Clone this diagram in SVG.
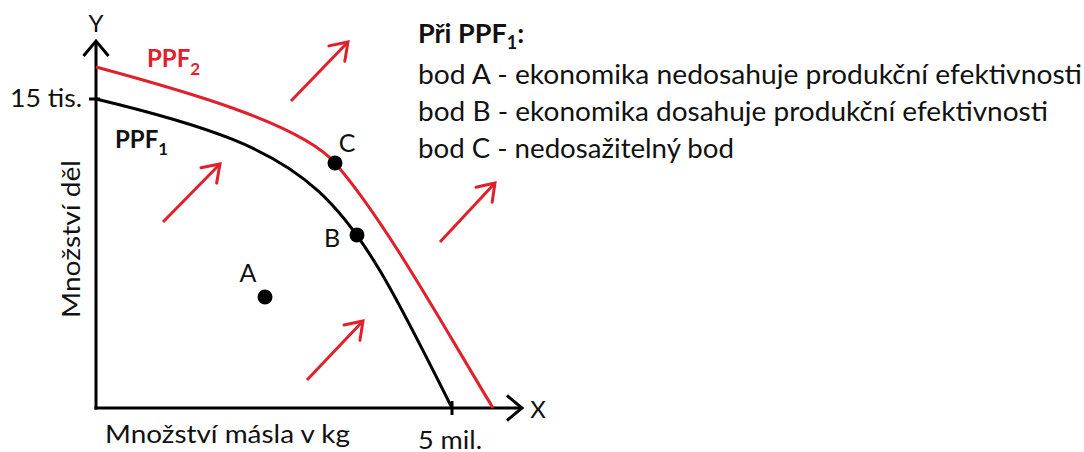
<svg xmlns="http://www.w3.org/2000/svg" width="1084" height="452" viewBox="0 0 1084 452">
<defs>
<style>
.t{font-family:Lato,"Noto Sans","DejaVu Sans",sans-serif;fill:#111}
.b{font-weight:bold}
.ax{stroke:#000;stroke-width:3;fill:none}
.blk{stroke:#000;stroke-width:3;fill:none}
.red{stroke:#e0202a;stroke-width:3;fill:none}
.dot{fill:#000}
</style>
<marker id="ra" markerUnits="userSpaceOnUse" markerWidth="40" markerHeight="40" refX="0" refY="0" orient="auto" overflow="visible">
<path d="M-16,-11 L0,0 L-16,11" fill="none" stroke="#e0202a" stroke-width="3" stroke-linecap="round"/>
</marker>
<marker id="ka" markerUnits="userSpaceOnUse" markerWidth="40" markerHeight="40" refX="0" refY="0" orient="auto" overflow="visible">
<path d="M-15,-12.5 L0,0 L-15,12.5" fill="none" stroke="#000" stroke-width="3"/>
</marker>
</defs>
<rect width="1084" height="452" fill="#fff"/>

<g id="axes">
<line class="ax" x1="96" y1="409.5" x2="96" y2="41" marker-end="url(#ka)"/>
<line class="ax" x1="94.5" y1="408" x2="522" y2="408" marker-end="url(#ka)"/>
<line class="ax" x1="89" y1="99" x2="100" y2="99"/>
<line class="ax" x1="452" y1="401" x2="452" y2="415"/>
<text class="t" x="96" y="32" font-size="24" text-anchor="middle">Y</text>
<text class="t" x="538" y="418" font-size="24" text-anchor="middle">X</text>
<text class="t" x="82" y="107" font-size="25" text-anchor="end" textLength="72" lengthAdjust="spacingAndGlyphs">15 tis.</text>
<text class="t" x="418" y="449" font-size="25" textLength="64" lengthAdjust="spacingAndGlyphs">5 mil.</text>
<text class="t" x="105" y="443" font-size="25" textLength="245" lengthAdjust="spacingAndGlyphs">Množství másla v kg</text>
<text class="t" transform="translate(80,239) rotate(-90)" font-size="25" text-anchor="middle" textLength="158" lengthAdjust="spacingAndGlyphs">Množství děl</text>
</g>

<g id="ppf1">
<path class="blk" d="M96,99 C326,154.2 342,188 452,408"/>
<text class="t b" x="115" y="148" font-size="24">PPF<tspan font-size="17" dy="7">1</tspan></text>
</g>

<g id="ppf2">
<path class="red" d="M96,67 C176,88.6 300,122.75 335,163 C385,220.5 443,325.5 493,408"/>
<text class="t b" x="147" y="67" font-size="24" style="fill:#e0202a">PPF<tspan font-size="17" dy="8">2</tspan></text>
</g>

<g id="pointA">
<circle class="dot" cx="265" cy="297" r="7.5"/>
<text class="t" x="248" y="282" font-size="25" text-anchor="middle">A</text>
</g>
<g id="pointB">
<circle class="dot" cx="357" cy="235" r="7.5"/>
<text class="t" x="332" y="247" font-size="25" text-anchor="middle">B</text>
</g>
<g id="pointC">
<circle class="dot" cx="335" cy="163" r="7.5"/>
<text class="t" x="347" y="152" font-size="25" text-anchor="middle">C</text>
</g>

<g id="connectors">
<line class="red" x1="291" y1="101" x2="348" y2="42" marker-end="url(#ra)"/>
<line class="red" x1="163" y1="222" x2="220" y2="164" marker-end="url(#ra)"/>
<line class="red" x1="307" y1="380" x2="363" y2="321" marker-end="url(#ra)"/>
<line class="red" x1="440" y1="242" x2="495" y2="183" marker-end="url(#ra)"/>
</g>

<g id="legend">
<text class="t b" x="418" y="43" font-size="27">Při PPF<tspan font-size="18" dy="6">1</tspan><tspan dy="-6">:</tspan></text>
<text class="t" x="418" y="84" font-size="27" textLength="664" lengthAdjust="spacingAndGlyphs">bod A - ekonomika nedosahuje produkční efektivnosti</text>
<text class="t" x="418" y="121" font-size="27" textLength="630" lengthAdjust="spacingAndGlyphs">bod B - ekonomika dosahuje produkční efektivnosti</text>
<text class="t" x="418" y="158" font-size="27" textLength="316" lengthAdjust="spacingAndGlyphs">bod C - nedosažitelný bod</text>
</g>
</svg>
